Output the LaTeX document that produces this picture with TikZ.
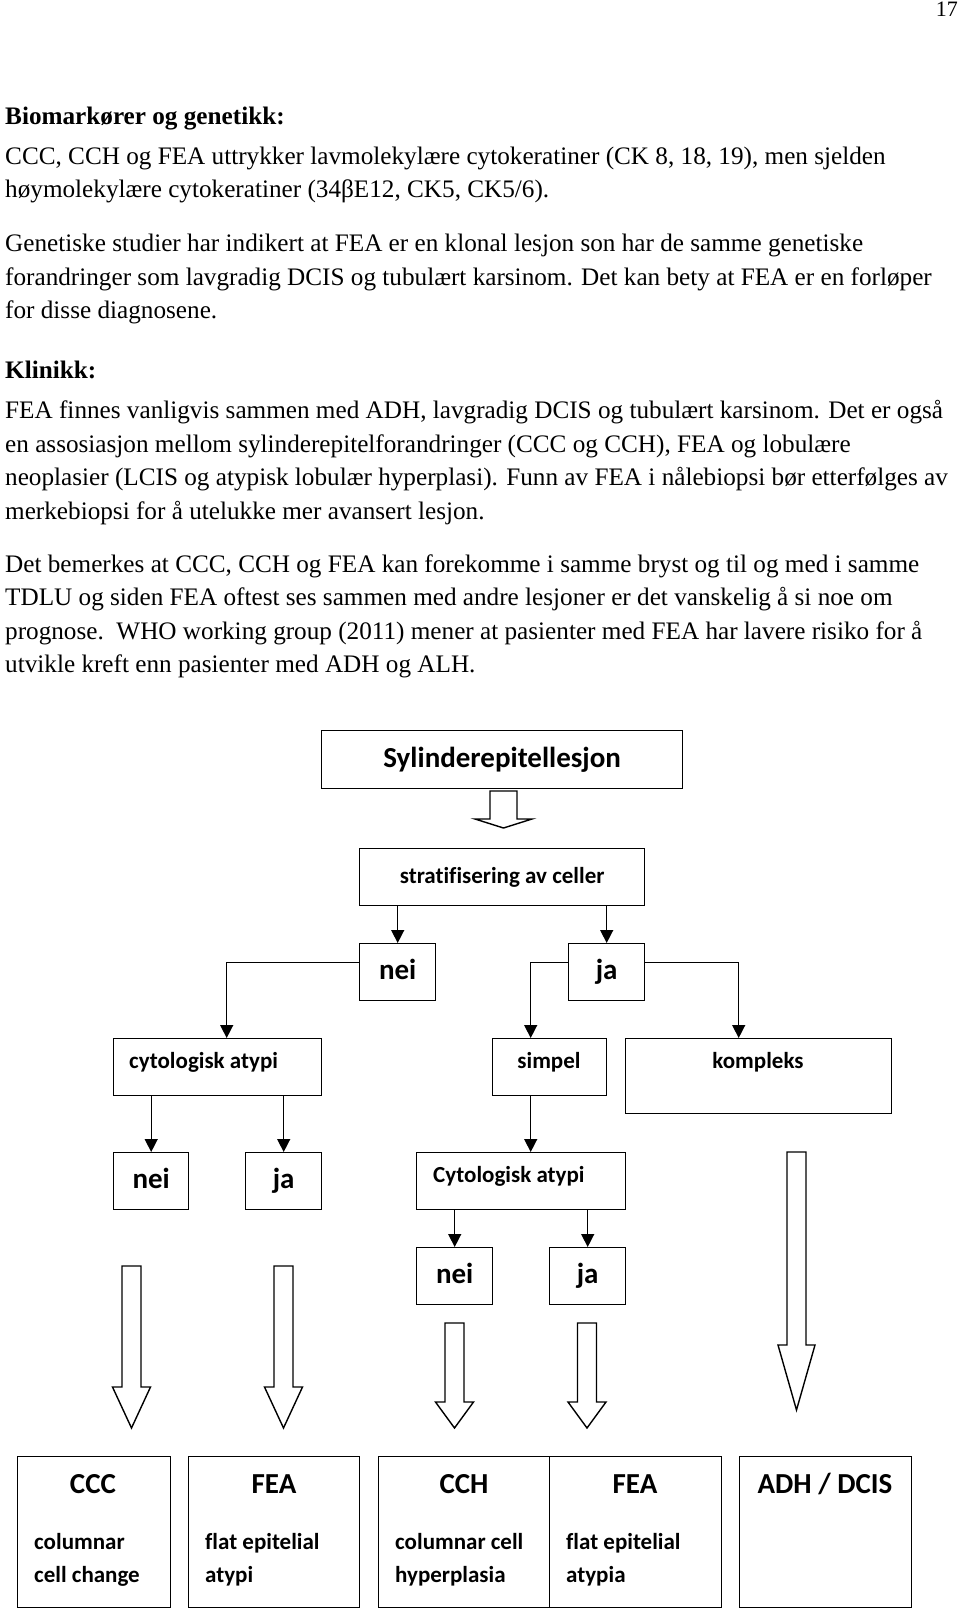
\documentclass[tikz,border=0pt]{standalone}
\usepackage{fontspec}
\setmainfont{Liberation Serif}
\newfontfamily\calib[Ligatures={NoCommon}]{Carlito}
\usetikzlibrary{arrows.meta,calc}
\newcommand\hdown[6]{%
  \draw[hollow] (#1-#5,#2) -- (#1+#5,#2) -- (#1+#5,#3) -- (#1+#6,#3) -- (#1,#4) -- (#1-#6,#3) -- (#1-#5,#3) -- cycle;}
\newcommand\eqh[1]{\vphantom{nj}#1}
\begin{document}
\begin{tikzpicture}[x=1pt,y=-1pt,
  body/.style={anchor=base west, inner sep=0pt, font=\fontsize{25.2}{30}\selectfont},
  bodyb/.style={body, font=\bfseries\fontsize{25.2}{30}\selectfont},
  box/.style={draw, line width=1.4pt, anchor=north west, inner sep=0pt},
  big/.style={font=\calib\bfseries\fontsize{29}{34}\selectfont},
  small/.style={font=\calib\bfseries\fontsize{23}{28}\selectfont},
  lbl/.style={inner sep=0pt},
  conn/.style={line width=1.4pt, -{Triangle[length=13pt,width=13pt]}},
  hollow/.style={draw, line width=1.4pt, fill=white, line join=miter}
]
\useasboundingbox[fill=white] (0,0) rectangle (960,1612);

% page number
\node[anchor=north east, inner sep=0pt, font=\fontsize{22}{26}\selectfont] (pg) at (958,2) {17};

% text
\node[bodyb] (h1) at (5,124) {Biomarkører og genetikk:};
\node[body] (t1) at (5,164) {CCC, CCH og FEA uttrykker lavmolekylære cytokeratiner (CK 8, 18, 19), men sjelden};
\node[body] (t2) at (5,197) {høymolekylære cytokeratiner (34βE12, CK5, CK5/6).};
\node[body] (t3) at (5,251) {Genetiske studier har indikert at FEA er en klonal lesjon son har de samme genetiske};
\node[body] (t4) at (5,285) {forandringer som lavgradig DCIS og tubulært karsinom. Det kan bety at FEA er en forløper};
\node[body] (t5) at (5,318) {for disse diagnosene.};
\node[bodyb] (h2) at (5,378) {Klinikk:};
\node[body] (t6) at (5,418.5) {FEA finnes vanligvis sammen med ADH, lavgradig DCIS og tubulært karsinom. Det er også};
\node[body] (t7) at (5,452) {en assosiasjon mellom sylinderepitelforandringer (CCC og CCH), FEA og lobulære};
\node[body] (t8) at (5,485.5) {neoplasier (LCIS og atypisk lobulær hyperplasi). Funn av FEA i nålebiopsi bør etterfølges av};
\node[body] (t9) at (5,519) {merkebiopsi for å utelukke mer avansert lesjon.};
\node[body] (t10) at (5,572) {Det bemerkes at CCC, CCH og FEA kan forekomme i samme bryst og til og med i samme};
\node[body] (t11) at (5,605.5) {TDLU og siden FEA oftest ses sammen med andre lesjoner er det vanskelig å si noe om};
\node[body] (t12) at (5,639) {prognose.\ \ WHO working group (2011) mener at pasienter med FEA har lavere risiko for å};
\node[body] (t13) at (5,672.5) {utvikle kreft enn pasienter med ADH og ALH.};

% boxes
\node[box, big, minimum width=361pt, minimum height=58pt] (syl) at (321,730) {Sylinderepitellesjon};
\node[box, small, minimum width=285pt, minimum height=57pt] (strat) at (359,848) {stratifisering av celler};
\node[box, big, minimum width=76pt, minimum height=57pt] (nei1) at (359,943) {\eqh{nei}};
\node[box, big, minimum width=76pt, minimum height=57pt] (ja1) at (568,943) {\eqh{ja}};
\node[box, minimum width=208pt, minimum height=57pt] (cyto1) at (113,1038) {};
\node[box, minimum width=114pt, minimum height=57pt] (simpel) at (492,1038) {};
\node[box, minimum width=266pt, minimum height=75pt] (kompleks) at (625,1038) {};
\node[box, big, minimum width=75pt, minimum height=57pt] (nei2) at (113,1152) {\eqh{nei}};
\node[box, big, minimum width=76pt, minimum height=57pt] (ja2) at (245,1152) {\eqh{ja}};
\node[box, minimum width=209pt, minimum height=57pt] (cyto2) at (416,1152) {};
\node[box, big, minimum width=76pt, minimum height=57pt] (nei3) at (416,1247) {\eqh{nei}};
\node[box, big, minimum width=76pt, minimum height=57pt] (ja3) at (549,1247) {\eqh{ja}};

\node[small, lbl, anchor=base west] (cyto1t) at (129,1068) {cytologisk atypi};
\node[small, lbl, anchor=base] (simpelt) at (549,1068) {simpel};
\node[small, lbl, anchor=base] (komplekst) at (758,1068) {kompleks};
\node[small, lbl, anchor=base west] (cyto2t) at (433,1182) {Cytologisk atypi};

% bottom boxes
\node[box, minimum width=153pt, minimum height=151pt] (b1) at (17,1456) {};
\node[box, minimum width=171pt, minimum height=151pt] (b2) at (188,1456) {};
\node[box, minimum width=171pt, minimum height=151pt] (b3) at (378,1456) {};
\node[box, minimum width=172pt, minimum height=151pt] (b4) at (549,1456) {};
\node[box, minimum width=172pt, minimum height=151pt] (b5) at (739,1456) {};

\node[big, lbl, anchor=base] (b1t) at (93,1493) {CCC};
\node[big, lbl, anchor=base] (b2t) at (274,1493) {FEA};
\node[big, lbl, anchor=base] (b3t) at (464,1493) {CCH};
\node[big, lbl, anchor=base] (b4t) at (635,1493) {FEA};
\node[big, lbl, anchor=base] (b5t) at (825,1493) {ADH / DCIS};

\node[small, lbl, anchor=base west] (b1a) at (34,1549) {columnar};
\node[small, lbl, anchor=base west] (b1b) at (34,1582) {cell change};
\node[small, lbl, anchor=base west] (b2a) at (205,1549) {flat epitelial};
\node[small, lbl, anchor=base west] (b2b) at (205,1582) {atypi};
\node[small, lbl, anchor=base west] (b3a) at (395,1549) {columnar cell};
\node[small, lbl, anchor=base west] (b3b) at (395,1582) {hyperplasia};
\node[small, lbl, anchor=base west] (b4a) at (566,1549) {flat epitelial};
\node[small, lbl, anchor=base west] (b4b) at (566,1582) {atypia};

% hollow arrows
\hdown{503.5}{791}{819}{828}{13.5}{28.5}
\hdown{131.5}{1266}{1387}{1428}{9.5}{19}
\hdown{283.5}{1266}{1387}{1428}{9.5}{19}
\hdown{454.5}{1323}{1402}{1428}{9.5}{19}
\hdown{587}{1323}{1402}{1428}{9.5}{19}
\hdown{796.5}{1152}{1345}{1410}{9.5}{18.5}

% connectors
\draw[conn] (strat.south -| nei1.north) -- (nei1.north);
\draw[conn] (strat.south -| ja1.north) -- (ja1.north);
\draw[conn] ([yshift=9.5pt]nei1.west) -| ([xshift=9pt]cyto1.north);
\draw[conn] ([yshift=9.5pt]ja1.west) -| ([xshift=-19pt]simpel.north);
\draw[conn] ([yshift=9.5pt]ja1.east) -| ([xshift=-20pt]kompleks.north);
\draw[conn] (cyto1.south -| nei2.north) -- (nei2.north);
\draw[conn] (cyto1.south -| ja2.north) -- (ja2.north);
\draw[conn] ([xshift=-19pt]simpel.south) -- ([xshift=-19pt]simpel.south |- cyto2.north);
\draw[conn] (cyto2.south -| nei3.north) -- (nei3.north);
\draw[conn] (cyto2.south -| ja3.north) -- (ja3.north);
\end{tikzpicture}
\end{document}
